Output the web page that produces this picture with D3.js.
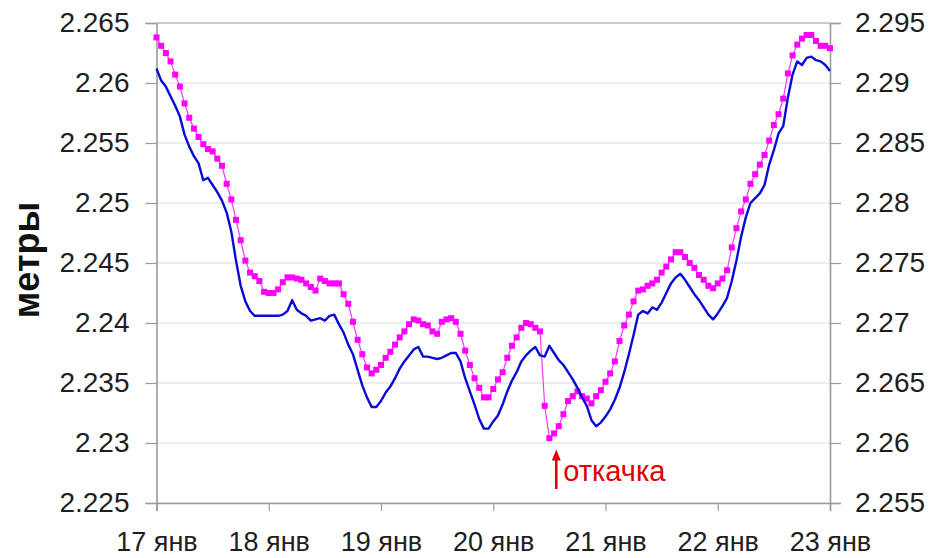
<!DOCTYPE html>
<html>
<head>
<meta charset="utf-8">
<script src="https://cdn.jsdelivr.net/npm/d3@7"></script>
<style>
  html, body { margin: 0; padding: 0; background: #fff; }
  svg { display: block; font-family: "Liberation Sans", Arial, sans-serif; }
</style>
</head>
<body>
<svg id="chart" width="938" height="558"></svg>
<script>
// Hourly readings starting 17 Jan 00:00
const startTime = new Date(2011, 0, 17, 0, 0);
const stepHours = 1;

// Blue gauge (left axis, metres)
const levelA = [
  2.2612, 2.2602, 2.2597, 2.2589, 2.2581, 2.2572, 2.2557, 2.2547, 2.2539, 2.2533, 2.2519, 2.2521,
  2.2515, 2.2509, 2.2502, 2.2492, 2.2476, 2.2452, 2.2431, 2.2418, 2.2410, 2.2406, 2.2406, 2.2406,
  2.2406, 2.2406, 2.2406, 2.2407, 2.2410, 2.2419, 2.2411, 2.2408, 2.2406, 2.2402, 2.2403, 2.2404,
  2.2402, 2.2406, 2.2407, 2.2399, 2.2392, 2.2382, 2.2374, 2.2361, 2.2348, 2.2338, 2.2330, 2.2330,
  2.2335, 2.2342, 2.2347, 2.2354, 2.2362, 2.2368, 2.2373, 2.2378, 2.2380, 2.2372, 2.2372, 2.2371,
  2.2370, 2.2371, 2.2373, 2.2375, 2.2375, 2.2368, 2.2354, 2.2343, 2.2332, 2.2320, 2.2312, 2.2312,
  2.2318, 2.2323, 2.2332, 2.2343, 2.2352, 2.2359, 2.2368, 2.2373, 2.2377, 2.2380, 2.2373, 2.2372,
  2.2381, 2.2375, 2.2369, 2.2365, 2.2359, 2.2353, 2.2346, 2.2338, 2.2331, 2.2319, 2.2314, 2.2317,
  2.2322, 2.2328, 2.2336, 2.2346, 2.2359, 2.2374, 2.2390, 2.2407, 2.2410, 2.2408, 2.2413, 2.2411,
  2.2417, 2.2425, 2.2433, 2.2438, 2.2441, 2.2436, 2.2430, 2.2424, 2.2419, 2.2413, 2.2407, 2.2403,
  2.2408, 2.2414, 2.2421, 2.2435, 2.2452, 2.2472, 2.2488, 2.2500, 2.2504, 2.2508, 2.2515, 2.2532,
  2.2544, 2.2558, 2.2564, 2.2588, 2.2607, 2.2618, 2.2615, 2.2621, 2.2622, 2.2619, 2.2618, 2.2615,
  2.2610
];

// Magenta gauge (right axis, metres)
const levelB = [
  2.2938, 2.2931, 2.2925, 2.2918, 2.2907, 2.2897, 2.2883, 2.2871, 2.2862, 2.2855, 2.2849, 2.2845,
  2.2843, 2.2837, 2.2831, 2.2816, 2.2803, 2.2786, 2.2769, 2.2752, 2.2742, 2.2739, 2.2735, 2.2726,
  2.2725, 2.2725, 2.2728, 2.2734, 2.2738, 2.2738, 2.2737, 2.2736, 2.2733, 2.2730, 2.2727, 2.2737,
  2.2735, 2.2733, 2.2733, 2.2733, 2.2724, 2.2716, 2.2701, 2.2686, 2.2674, 2.2663, 2.2658, 2.2661,
  2.2665, 2.2671, 2.2676, 2.2682, 2.2688, 2.2693, 2.2699, 2.2703, 2.2702, 2.2699, 2.2698, 2.2693,
  2.2691, 2.2701, 2.2703, 2.2704, 2.2701, 2.2691, 2.2677, 2.2665, 2.2654, 2.2646, 2.2638, 2.2638,
  2.2645, 2.2653, 2.2659, 2.2671, 2.2681, 2.2688, 2.2696, 2.2700, 2.2699, 2.2696, 2.2693, 2.2631,
  2.2604, 2.2608, 2.2614, 2.2624, 2.2635, 2.2639, 2.2643, 2.2639, 2.2637, 2.2633, 2.2639, 2.2644,
  2.2651, 2.2658, 2.2668, 2.2685, 2.2698, 2.2707, 2.2718, 2.2727, 2.2728, 2.2731, 2.2733, 2.2736,
  2.2742, 2.2747, 2.2753, 2.2759, 2.2759, 2.2755, 2.2750, 2.2746, 2.2740, 2.2736, 2.2731, 2.2729,
  2.2733, 2.2737, 2.2744, 2.2763, 2.2779, 2.2793, 2.2803, 2.2816, 2.2824, 2.2832, 2.2840, 2.2852,
  2.2865, 2.2874, 2.2887, 2.2908, 2.2923, 2.2932, 2.2937, 2.2940, 2.2940, 2.2935, 2.2931, 2.2931,
  2.2929
];

const leftTicks  = [2.225, 2.23, 2.235, 2.24, 2.245, 2.25, 2.255, 2.26, 2.265];
const rightTicks = [2.255, 2.26, 2.265, 2.27, 2.275, 2.28, 2.285, 2.29, 2.295];
const dayTicks   = [17, 18, 19, 20, 21, 22, 23];
const dayLabels  = ["17 янв", "18 янв", "19 янв", "20 янв", "21 янв", "22 янв", "23 янв"];

const yAxisTitle = "метры";
const noteText = "откачка";
const noteTime = new Date(2011, 0, 20, 12, 50);   // pumping moment
const noteValueB = 2.2603;

const svg = d3.select("#chart");
const plotLeft = 156.5, plotRight = 830, plotTop = 23, plotBottom = 503;

const x = d3.scaleTime()
  .domain([new Date(2011, 0, 17), new Date(2011, 0, 23)])
  .range([plotLeft, plotRight]);
const yL = d3.scaleLinear().domain([2.225, 2.265]).range([plotBottom, plotTop]);
const yR = d3.scaleLinear().domain([2.255, 2.295]).range([plotBottom, plotTop]);

const timeAt = i => d3.timeHour.offset(startTime, i * stepHours);
const seriesA = levelA.map((v, i) => ({ t: timeAt(i), v }));
const seriesB = levelB.map((v, i) => ({ t: timeAt(i), v }));

const fmt = d3.format(".3~f");
const dayDates = dayTicks.map(d => new Date(2011, 0, d));

// horizontal grid
svg.append("g")
  .selectAll("line")
  .data(leftTicks)
  .join("line")
  .attr("x1", plotLeft).attr("x2", plotRight)
  .attr("y1", d => yL(d)).attr("y2", d => yL(d))
  .attr("stroke", "#dcdcdc").attr("stroke-width", 1.2);

// axes
const axisL = d3.axisLeft(yL).tickValues(leftTicks).tickFormat(fmt).tickSize(11).tickPadding(16);
const axisR = d3.axisRight(yR).tickValues(rightTicks).tickFormat(fmt).tickSize(11).tickPadding(14);
const axisB = d3.axisBottom(x).tickValues(dayDates)
  .tickFormat((d, i) => dayLabels[i]).tickSize(8).tickPadding(21);

function styleAxis(g) {
  g.select(".domain").attr("stroke", "#9a9a9a").attr("stroke-width", 1.6);
  g.selectAll(".tick line").attr("stroke", "#9a9a9a").attr("stroke-width", 1.2);
  g.selectAll(".tick text").attr("fill", "#1e1e1e").style("font-size", "28px")
    .style("font-family", "'Liberation Sans', Arial, sans-serif");
}

svg.append("g").attr("transform", `translate(${plotLeft},0)`).call(axisL).call(styleAxis);
svg.append("g").attr("transform", `translate(${plotRight},0)`).call(axisR).call(styleAxis);
svg.append("g").attr("transform", `translate(0,${plotBottom})`).call(axisB).call(styleAxis)
  .selectAll(".tick text").style("font-size", "27px");

// top frame line
svg.append("line")
  .attr("x1", plotLeft).attr("x2", plotRight).attr("y1", plotTop).attr("y2", plotTop)
  .attr("stroke", "#bdbdbd").attr("stroke-width", 1.4);

// axis title
svg.append("text")
  .attr("transform", `translate(39,260) rotate(-90)`)
  .attr("text-anchor", "middle")
  .style("font-size", "36px").style("font-weight", "bold")
  .attr("fill", "#111")
  .text(yAxisTitle);

// magenta series: thin connecting line plus square markers
svg.append("path")
  .datum(seriesB)
  .attr("fill", "none")
  .attr("stroke", "#ff33ff")
  .attr("stroke-width", 1.2)
  .attr("d", d3.line().x(d => x(d.t)).y(d => yR(d.v)));

svg.append("g")
  .selectAll("rect")
  .data(seriesB)
  .join("rect")
  .attr("x", d => x(d.t) - 3)
  .attr("y", d => yR(d.v) - 3)
  .attr("width", 6).attr("height", 6)
  .attr("fill", "#ff00ff");

// blue series
svg.append("path")
  .datum(seriesA)
  .attr("fill", "none")
  .attr("stroke", "#0a0ad8")
  .attr("stroke-width", 2.4)
  .attr("stroke-linejoin", "round")
  .attr("d", d3.line().x(d => x(d.t)).y(d => yL(d.v)));

// pumping annotation
const ax = x(noteTime) + 3;
const ay = yR(noteValueB) + 10;
svg.append("line")
  .attr("x1", ax).attr("x2", ax)
  .attr("y1", ay + 8).attr("y2", 489)
  .attr("stroke", "#e00000").attr("stroke-width", 2.5);
svg.append("path")
  .attr("d", `M${ax},${ay} L${ax - 4.5},${ay + 11} L${ax + 4.5},${ay + 11} Z`)
  .attr("fill", "#e00000");
svg.append("text")
  .attr("x", ax + 7).attr("y", 481)
  .style("font-size", "29px")
  .attr("fill", "#e00000")
  .text(noteText);
</script>
</body>
</html>
